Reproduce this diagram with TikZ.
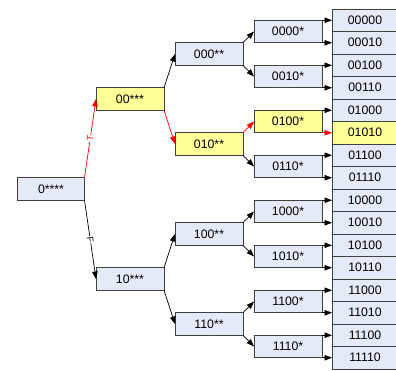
\documentclass[tikz,border=0pt]{standalone}
\usepackage{fontspec}
\setmainfont{Liberation Sans}
\usetikzlibrary{calc}
\usetikzlibrary{positioning}
\usetikzlibrary{chains,arrows.meta}
\definecolor{boxblue}{RGB}{228,234,246}
\definecolor{boxyellow}{RGB}{255,255,153}
\definecolor{boxline}{RGB}{64,64,64}
\tikzset{
	>={Triangle[length=7.5pt,width=5.5pt]},
	kasten/.style={
		rectangle,
		fill=boxblue,
		draw=boxline, line width=0.8pt,
		minimum width=68pt,
		minimum height=22.5pt,
		inner sep=0pt, outer sep=0pt,
		text centered,
		font=\fontsize{12.3}{14}\selectfont},
	blatt/.style={kasten, minimum width=66pt, on chain},
	gelb/.style={fill=boxyellow},
	pfeil/.style={draw, ->, line width=0.7pt},
	pfad/.style={pfeil, red},
	marke/.style={midway, sloped, fill=white, inner sep=0.8pt, font=\fontsize{9}{10}\selectfont},
}
\begin{document}
\begin{tikzpicture}
				[x=1pt, y=1pt, node distance=0pt, start chain=going below]
				\useasboundingbox (0,0) rectangle (396,-370);
				% leaves
				\node[blatt, anchor=north west] (b00000) at (332,-9) {00000};
				\node[blatt] (b00010) {00010};
				\node[blatt] (b00100) {00100};
				\node[blatt] (b00110) {00110};
				\node[blatt] (b01000) {01000};
				\node[blatt, gelb] (b01010) {01010};
				\node[blatt] (b01100) {01100};
				\node[blatt] (b01110) {01110};
				\node[blatt] (b10000) {10000};
				\node[blatt] (b10010) {10010};
				\node[blatt] (b10100) {10100};
				\node[blatt] (b10110) {10110};
				\node[blatt] (b11000) {11000};
				\node[blatt] (b11010) {11010};
				\node[blatt] (b11100) {11100};
				\node[blatt] (b11110) {11110};
				% level 3
				\node[kasten, left=10pt of b00000.south west] (k0000) {0000*};
				\node[kasten, left=10pt of b00100.south west] (k0010) {0010*};
				\node[kasten, gelb, left=10pt of b01000.south west] (k0100) {0100*};
				\node[kasten, left=10pt of b01100.south west] (k0110) {0110*};
				\node[kasten, left=10pt of b10000.south west] (k1000) {1000*};
				\node[kasten, left=10pt of b10100.south west] (k1010) {1010*};
				\node[kasten, left=10pt of b11000.south west] (k1100) {1100*};
				\node[kasten, left=10pt of b11100.south west] (k1110) {1110*};
				% level 2
				\node[kasten, anchor=east] (k000) at ($(k0000.south west)!.5!(k0010.north west)+(-11,0)$) {000**};
				\node[kasten, gelb, anchor=east] (k010) at ($(k0100.south west)!.5!(k0110.north west)+(-11,0)$) {010**};
				\node[kasten, anchor=east] (k100) at ($(k1000.south west)!.5!(k1010.north west)+(-11,0)$) {100**};
				\node[kasten, anchor=east] (k110) at ($(k1100.south west)!.5!(k1110.north west)+(-11,0)$) {110**};
				% level 1 and root
				\node[kasten, gelb, anchor=east] (k00) at ($(k000.south west)!.5!(k010.north west)+(-11,0)$) {00***};
				\node[kasten, anchor=east] (k10) at ($(k100.south west)!.5!(k110.north west)+(-11,0)$) {10***};
				\node[kasten, minimum width=67pt, anchor=east] (wurzel) at ($(k00.south west)!.5!(k10.north west)+(-11.5,0)$) {0****};
				
				\draw[pfad] (wurzel.north east) -- node[marke] {T} (k00.west);
				\draw[pfeil] (wurzel.south east) -- node[marke] {F} (k10.west);
				\draw[pfeil] (k00.north east) -- (k000.west);
				\draw[pfad] (k00.south east) -- (k010.west);
				\draw[pfeil] (k10.north east) -- (k100.west);
				\draw[pfeil] (k10.south east) -- (k110.west);
				\draw[pfeil] (k000.north east) -- (k0000.west);
				\draw[pfeil] (k000.south east) -- (k0010.west);
				\draw[pfad] (k010.north east) -- (k0100.west);
				\draw[pfeil] (k010.south east) -- (k0110.west);
				\draw[pfeil] (k100.north east) -- (k1000.west);
				\draw[pfeil] (k100.south east) -- (k1010.west);
				\draw[pfeil] (k110.north east) -- (k1100.west);
				\draw[pfeil] (k110.south east) -- (k1110.west);
				\draw[pfeil] (k0000.north east) -- (b00000.west);
				\draw[pfeil] (k0000.south east) -- (b00010.west);
				\draw[pfeil] (k0010.north east) -- (b00100.west);
				\draw[pfeil] (k0010.south east) -- (b00110.west);
				\draw[pfeil] (k0100.north east) -- (b01000.west);
				\draw[pfad] (k0100.south east) -- (b01010.west);
				\draw[pfeil] (k0110.north east) -- (b01100.west);
				\draw[pfeil] (k0110.south east) -- (b01110.west);
				\draw[pfeil] (k1000.north east) -- (b10000.west);
				\draw[pfeil] (k1000.south east) -- (b10010.west);
				\draw[pfeil] (k1010.north east) -- (b10100.west);
				\draw[pfeil] (k1010.south east) -- (b10110.west);
				\draw[pfeil] (k1100.north east) -- (b11000.west);
				\draw[pfeil] (k1100.south east) -- (b11010.west);
				\draw[pfeil] (k1110.north east) -- (b11100.west);
				\draw[pfeil] (k1110.south east) -- (b11110.west);
				
				\end{tikzpicture}
\end{document}
